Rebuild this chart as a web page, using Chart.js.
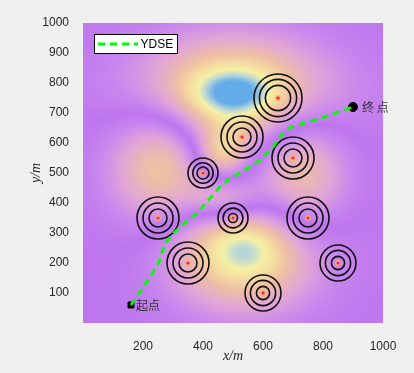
<!DOCTYPE html>
<html>
<head>
<meta charset="utf-8">
<script src="https://cdn.jsdelivr.net/npm/chart.js@4.4.0/dist/chart.umd.min.js"></script>
<style>
  html, body { margin: 0; padding: 0; background: #f0f0f0; }
  canvas { display: block; }
</style>
</head>
<body>
<canvas id="pathChart" width="414" height="373"></canvas>
<script>
// threat centres (m) and the radii of their three rings (m)
const obsX = [650, 530, 700, 400, 250, 500, 750, 350, 850, 600];
const obsY = [750, 620, 550, 500, 350, 350, 350, 200, 200, 100];
const ringOuter = [80, 70, 70, 50, 70, 50, 70, 70, 60, 60];
const ringMid = [62, 50, 50, 34, 50, 33, 50, 50, 42, 42];
const ringInner = [42, 30, 30, 20, 30, 15, 30, 30, 22, 22];

// YDSE path
const pathX = [160, 213, 252, 274, 302, 340, 380, 452, 491, 530, 591, 630, 657, 685, 735, 791, 847, 900];
const pathY = [60, 138, 199, 266, 299, 335, 366, 449, 482, 504, 543, 582, 621, 649, 666, 682, 702, 720];

// start / end
const markX = [160, 900];
const markY = [60, 720];
const markNames = ['起点', '终 点'];

// bumps of the background field
const bumpX = [500, 500, 545, 545, 265, 720, 460, 480];
const bumpY = [765, 765, 245, 245, 535, 490, 565, 410];
const bumpAmp = [0.86, 0.3, 0.86, 0.09, -0.62, -0.6, 0.5, -0.5];
const bumpSx = [225, 95, 175, 70, 125, 110, 60, 90];
const bumpSy = [130, 50, 135, 50, 150, 160, 60, 60];

const xTicks = [200, 400, 600, 800, 1000];
const yTicks = [100, 200, 300, 400, 500, 600, 700, 800, 900, 1000];

// colour map of the field
const cmapStops = [0, 0.12, 0.30, 0.50, 0.68, 0.78, 0.88, 1];
const cmapColours = [
  [190, 117, 238], [200, 135, 238], [225, 165, 215], [238, 190, 165],
  [245, 225, 160], [245, 240, 165], [185, 215, 215], [100, 172, 232]
];

function colour(t) {
  for (let i = 1; i < cmapStops.length; i++) {
    if (t <= cmapStops[i]) {
      const f = (t - cmapStops[i - 1]) / (cmapStops[i] - cmapStops[i - 1]);
      const a = cmapColours[i - 1], b = cmapColours[i];
      return [a[0] + (b[0] - a[0]) * f, a[1] + (b[1] - a[1]) * f, a[2] + (b[2] - a[2]) * f];
    }
  }
  return cmapColours[cmapColours.length - 1];
}

const heatmap = {
  id: 'heatmap',
  beforeDatasetsDraw(chart) {
    const {ctx, chartArea: a, scales: {x, y}} = chart;
    const w = Math.round(a.right - a.left), h = Math.round(a.bottom - a.top);
    const img = ctx.createImageData(w, h);
    for (let j = 0; j < h; j++) {
      const vy = y.getValueForPixel(a.top + j + 0.5);
      for (let i = 0; i < w; i++) {
        const vx = x.getValueForPixel(a.left + i + 0.5);
        let f = 0;
        for (let k = 0; k < bumpX.length; k++) {
          const dx = (vx - bumpX[k]) / bumpSx[k], dy = (vy - bumpY[k]) / bumpSy[k];
          f += bumpAmp[k] * Math.exp(-0.5 * (dx * dx + dy * dy));
        }
        const c = colour(Math.min(1, Math.abs(f)));
        const p = (j * w + i) * 4;
        img.data[p] = c[0];
        img.data[p + 1] = c[1];
        img.data[p + 2] = c[2];
        img.data[p + 3] = 255;
      }
    }
    ctx.putImageData(img, Math.round(a.left), Math.round(a.top));
  }
};

// start/end labels and the legend box (top left, inside the axes)
const overlay = {
  id: 'overlay',
  afterDatasetsDraw(chart) {
    const {ctx, chartArea: a, scales: {x, y}} = chart;
    const offsets = [5, 9];
    ctx.save();
    ctx.font = '12px "Noto Sans CJK SC"';
    ctx.fillStyle = '#333333';
    ctx.textAlign = 'left';
    ctx.textBaseline = 'middle';
    markNames.forEach((name, i) => {
      ctx.fillText(name, x.getPixelForValue(markX[i]) + offsets[i], y.getPixelForValue(markY[i]));
    });

    const ds = chart.data.datasets[0];
    const bx = a.left + 11.5, by = a.top + 11.5;
    ctx.fillStyle = '#ffffff';
    ctx.fillRect(bx, by, 83, 19);
    ctx.strokeStyle = '#000000';
    ctx.lineWidth = 1;
    ctx.strokeRect(bx, by, 83, 19);
    ctx.strokeStyle = ds.borderColor;
    ctx.lineWidth = ds.borderWidth;
    ctx.setLineDash(ds.borderDash);
    ctx.beginPath();
    ctx.moveTo(bx + 3.5, by + 9.5);
    ctx.lineTo(bx + 43.5, by + 9.5);
    ctx.stroke();
    ctx.setLineDash([]);
    ctx.fillStyle = '#000000';
    ctx.font = '12px "Liberation Sans", Arial, sans-serif';
    ctx.fillText(ds.label, bx + 46, by + 10);
    ctx.restore();
  }
};

// ring radius in pixels, from the x scale
const unitPx = ctx => {
  const s = ctx.chart.scales.x;
  return Math.abs(s.getPixelForValue(1) - s.getPixelForValue(0));
};
const obsPoints = obsX.map((v, i) => ({x: v, y: obsY[i]}));
const ring = (radii) => ({
  data: obsPoints,
  pointRadius: ctx => radii[ctx.dataIndex] * unitPx(ctx),
  pointHoverRadius: ctx => radii[ctx.dataIndex] * unitPx(ctx),
  pointBackgroundColor: 'rgba(0,0,0,0)',
  pointBorderColor: '#111111',
  pointBorderWidth: 1.6
});

const tickFont = {family: '"Liberation Sans", Arial, sans-serif', size: 12};
const titleFont = {family: '"Liberation Serif", "Times New Roman", serif', size: 14, style: 'italic', lineHeight: 1.2};

new Chart(document.getElementById('pathChart'), {
  type: 'scatter',
  data: {
    datasets: [
      {
        label: 'YDSE',
        data: pathX.map((v, i) => ({x: v, y: pathY[i]})),
        showLine: true,
        borderColor: '#00ff00',
        backgroundColor: '#00ff00',
        borderWidth: 2.8,
        borderDash: [7, 5],
        pointRadius: 0,
        tension: 0
      },
      {
        label: 'start',
        data: [{x: markX[0], y: markY[0]}],
        pointStyle: 'rect',
        pointRadius: 4.2,
        pointBackgroundColor: '#000000',
        pointBorderColor: '#000000',
        pointBorderWidth: 1
      },
      {
        label: 'end',
        data: [{x: markX[1], y: markY[1]}],
        pointStyle: 'circle',
        pointRadius: 4.5,
        pointBackgroundColor: '#000000',
        pointBorderColor: '#000000',
        pointBorderWidth: 1
      },
      {
        label: 'centres',
        data: obsPoints,
        pointRadius: 2.2,
        pointBackgroundColor: '#ff00ff',
        pointBorderColor: '#ffc000',
        pointBorderWidth: 1.2
      },
      Object.assign({label: 'outer'}, ring(ringOuter)),
      Object.assign({label: 'mid'}, ring(ringMid)),
      Object.assign({label: 'inner'}, ring(ringInner))
    ]
  },
  options: {
    responsive: false,
    animation: false,
    events: [],
    layout: {padding: {top: 23, right: 31, left: 0, bottom: 0}},
    scales: {
      x: {
        min: 0, max: 1000,
        afterBuildTicks: s => { s.ticks = xTicks.map(v => ({value: v})); },
        afterFit: s => { s.height = 50; },
        grid: {display: false},
        border: {display: false},
        ticks: {font: tickFont, color: '#262626', padding: 8, maxRotation: 0, callback: v => String(v)},
        title: {display: true, text: 'x/m', font: titleFont, color: '#262626', padding: {top: 0, bottom: 8.6}}
      },
      y: {
        min: 0, max: 1000,
        afterBuildTicks: s => { s.ticks = yTicks.map(v => ({value: v})); },
        afterFit: s => { s.width = 83; },
        grid: {display: false},
        border: {display: false},
        ticks: {font: tickFont, color: '#262626', padding: 6, callback: v => String(v)},
        title: {display: true, text: 'y/m', font: titleFont, color: '#262626', padding: {top: 27.6, bottom: 0}}
      }
    },
    plugins: {
      legend: {display: false},
      tooltip: {enabled: false}
    }
  },
  plugins: [heatmap, overlay]
});
</script>
</body>
</html>
